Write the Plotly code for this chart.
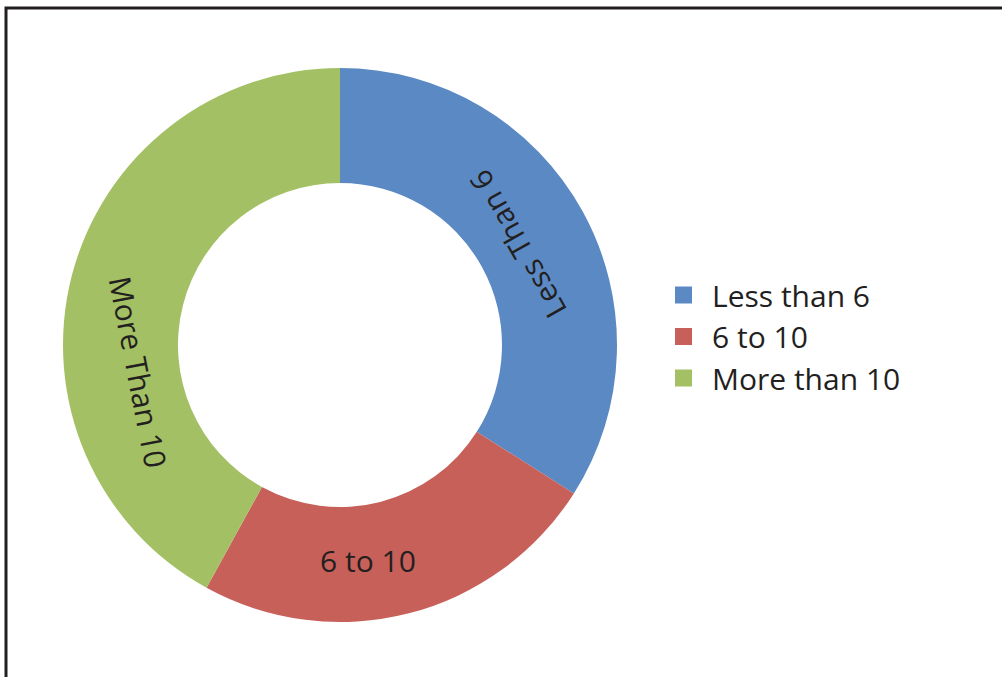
import math
import plotly.graph_objects as go

# ---- data ----
categories = ["Less than 6", "6 to 10", "More than 10"]
slice_labels = ["Less Than 6", "6 to 10", "More Than 10"]
values = [34, 24, 42]
colors = ["#5B89C4", "#C8605A", "#A3C064"]

W, H = 1002, 677
FONT = "Open Sans"
FS = 30

# pie geometry (pixels)
cx, cy, R, r_in = 340, 345, 277, 162

def px(x):
    return x / W

def py(y):
    return 1 - y / H

fig = go.Figure()
fig.add_trace(go.Pie(
    labels=categories,
    values=values,
    sort=False,
    direction="clockwise",
    rotation=0,
    hole=r_in / R,
    marker=dict(colors=colors, line=dict(width=0)),
    textinfo="none",
    hoverinfo="label+value+percent",
    showlegend=False,
    domain=dict(x=[px(cx - R), px(cx + R)], y=[py(cy + R), py(cy - R)]),
))

annotations = []
shapes = []

# slice labels (placed along ring, rotated tangentially)
label_pos = [(60.5, 204, -119.5), (172.6, 217, 0), (262.4, 204, 79)]
for txt, (ang, rad, rot) in zip(slice_labels, label_pos):
    a = math.radians(ang)
    x = cx + rad * math.sin(a)
    y = cy - rad * math.cos(a)
    annotations.append(dict(
        x=px(x), y=py(y), xref="paper", yref="paper",
        text=txt, showarrow=False, textangle=rot,
        xanchor="center", yanchor="middle",
        font=dict(family=FONT, size=FS, color="#231F20"),
    ))

# custom legend
leg_x, leg_y0, leg_dy, sq = 675, 295, 41.5, 17
for i, (cat, col) in enumerate(zip(categories, colors)):
    yc = leg_y0 + i * leg_dy
    shapes.append(dict(
        type="rect", xref="paper", yref="paper",
        x0=px(leg_x), x1=px(leg_x + sq), y0=py(yc + sq / 2), y1=py(yc - sq / 2),
        fillcolor=col, line=dict(width=0),
    ))
    annotations.append(dict(
        x=px(710), y=py(yc), xref="paper", yref="paper",
        text=cat, showarrow=False, xanchor="left", yanchor="middle",
        font=dict(family=FONT, size=FS, color="#231F20"),
    ))

# frame (left and top edges)
shapes.append(dict(
    type="path", xref="paper", yref="paper",
    path=f"M {px(6)} {py(H + 5)} L {px(6)} {py(8)} L {px(W + 5)} {py(8)}",
    line=dict(color="#231F20", width=3),
))

fig.update_layout(
    width=W, height=H,
    margin=dict(l=0, r=0, t=0, b=0),
    paper_bgcolor="white",
    plot_bgcolor="white",
    annotations=annotations,
    shapes=shapes,
    showlegend=False,
)

fig.write_html("out.html")
